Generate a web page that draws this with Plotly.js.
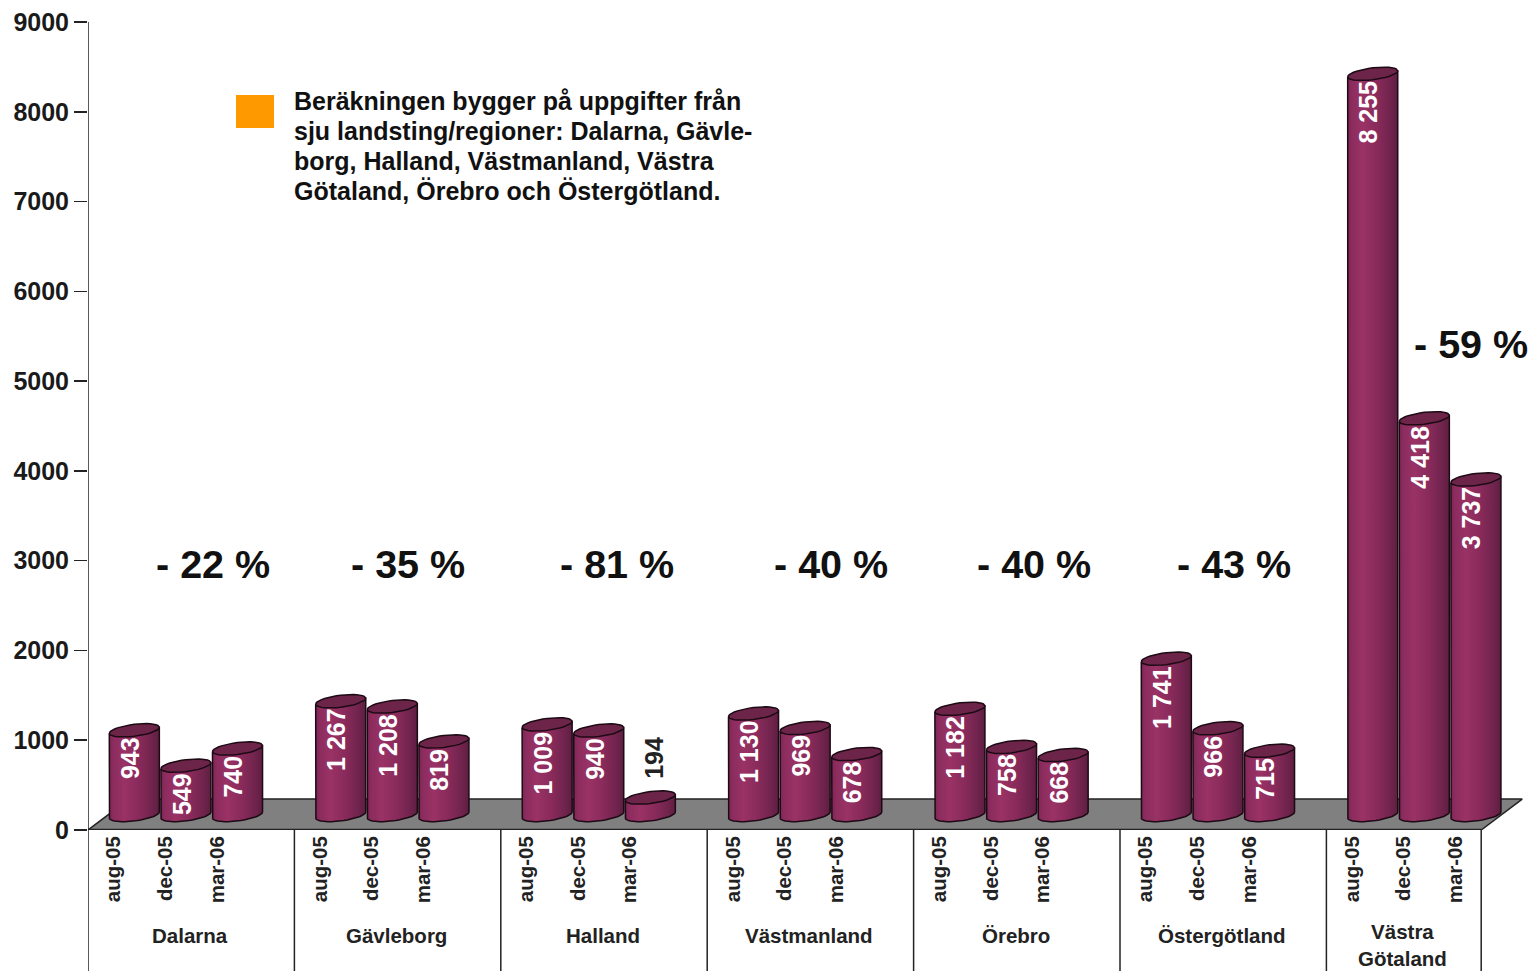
<!DOCTYPE html>
<html>
<head>
<meta charset="utf-8">
<script src="https://cdn.plot.ly/plotly-3.0.1.min.js"></script>
<style>html,body{margin:0;padding:0;background:#fff}#chart{width:1530px;height:971px}</style>
</head>
<body>
<div id="chart"></div>
<script>
// ---- data ----
var groups = ['Dalarna','Gävleborg','Halland','Västmanland','Örebro','Östergötland','Västra<br>Götaland'];
var periods = ['aug-05','dec-05','mar-06'];
var values = [
  943, 549, 740,
  1267, 1208, 819,
  1009, 940, 194,
  1130, 969, 678,
  1182, 758, 668,
  1741, 966, 715,
  8255, 4418, 3737
];
var changes = ['- 22 %','- 35 %','- 81 %','- 40 %','- 40 %','- 43 %','- 59 %'];
var changeX = [2.42, 6.2, 10.25, 14.4, 18.33, 22.2, 26.8];
var changeY = [2960, 2960, 2960, 2960, 2960, 2960, 5410];
var noteLines = [
  'Beräkningen bygger på uppgifter från',
  'sju landsting/regioner: Dalarna, Gävle-',
  'borg, Halland, Västmanland, Västra',
  'Götaland, Örebro och Östergötland.'
];
var yTicks = [0,1000,2000,3000,4000,5000,6000,7000,8000,9000];

// ---- geometry of the pseudo-3D look ----
var FONT = '"Liberation Sans", Arial, sans-serif';
var PLOT = {l: 88, t: 22, w: 1442, h: 808};
var slotPx = 51.6, unitPx = PLOT.h / 9000;
var xMax = PLOT.w / slotPx;
var depthX = 0.795, depthY = 345;         // floor depth, axis units
var barShiftX = depthX / 2, barBase = depthY / 2 - 5; // bars stand mid-floor
var rx = 0.485, ry = 6 / unitPx, tilt = 3 / unitPx; // ellipse shape
var lastSlot = 27;
var groupStarts = [0,4,8,12,16,20,24];
var groupEnds = [4,8,12,16,20,24,27];

var tickX = [], barX = [], tickText = [], valueLabels = [];
values.forEach(function (v, i) {
  var g = Math.floor(i / 3), k = i % 3;
  tickX.push(groupStarts[g] + k + 0.5);
  barX.push(groupStarts[g] + k + 0.5 + barShiftX);
  tickText.push(periods[k]);
  valueLabels.push(String(v).replace(/(\d)(\d{3})$/, '$1 $2'));
});

function ellipsePoint(cx, cy, t) {
  return [cx + rx * Math.cos(t), cy + ry * Math.sin(t) + tilt * Math.cos(t)];
}

var traces = [];
// floor
traces.push({
  type: 'scatter', mode: 'lines', hoverinfo: 'skip', showlegend: false, zorder: -1,
  x: [0, lastSlot, lastSlot + depthX, depthX, 0],
  y: [0, 0, depthY, depthY, 0],
  fill: 'toself', fillcolor: '#808080',
  line: {color: '#222', width: 1.5}
});
// actual value bars
traces.push({
  type: 'bar', x: barX, y: values, base: barBase, width: rx * 2 * 0.85,
  marker: {color: '#862b5c', line: {width: 0}}, hoverinfo: 'x+y', showlegend: false, zorder: 0
});
// cylinder skin
var bodyScale = [[0,'#7c2654'],[0.08,'#8c2c5e'],[0.3,'#9a3265'],[0.6,'#882a5b'],[0.85,'#70244d'],[1,'#5e1e40']];
values.forEach(function (v, i) {
  var cx = barX[i], top = barBase + v, xs = [], ys = [], n, t, p;
  // left edge down, curved bottom, right edge up, rear closing along the top
  p = ellipsePoint(cx, top, Math.PI); xs.push(p[0]); ys.push(p[1]);
  for (n = 0; n <= 24; n++) {
    t = Math.PI + n / 24 * Math.PI;
    p = ellipsePoint(cx, barBase, t); xs.push(p[0]); ys.push(p[1]);
  }
  p = ellipsePoint(cx, top, 0); xs.push(p[0]); ys.push(p[1]);
  xs.push(xs[0]); ys.push(ys[0]);
  traces.push({
    type: 'scatter', mode: 'lines', hoverinfo: 'skip', showlegend: false, zorder: 1,
    x: xs, y: ys, fill: 'toself',
    fillgradient: {type: 'horizontal', colorscale: bodyScale},
    line: {color: '#1c0a14', width: 1.5}
  });
  var ex = [], ey = [];
  for (n = 0; n <= 36; n++) {
    p = ellipsePoint(cx, top, n / 36 * 2 * Math.PI); ex.push(p[0]); ey.push(p[1]);
  }
  traces.push({
    type: 'scatter', mode: 'lines', hoverinfo: 'skip', showlegend: false, zorder: 1,
    x: ex, y: ey, fill: 'toself', fillcolor: '#6d2449',
    line: {color: '#1c0a14', width: 1.5}
  });
});

// ---- text ----
var annotations = [];
values.forEach(function (v, i) {
  var outside = v < 300;
  annotations.push({
    x: barX[i], y: barBase + v, xref: 'x', yref: 'y', showarrow: false,
    text: valueLabels[i], textangle: -90,
    xanchor: 'center', yanchor: outside ? 'bottom' : 'top',
    xshift: outside ? 3 : -4.5, yshift: outside ? 17 : -5,
    font: {family: FONT, size: 25, color: outside ? '#222' : '#fff', weight: 700}
  });
});
groups.forEach(function (g, i) {
  var twoLines = g.indexOf('<br>') >= 0;
  annotations.push({
    x: (groupStarts[i] + groupEnds[i]) / 2, y: -((twoLines ? 918 : 922) - 830) / PLOT.h, xref: 'x', yref: 'paper',
    showarrow: false, text: g, xanchor: 'center', yanchor: 'top', align: 'center', xshift: -1,
    font: {family: FONT, size: 20.5, color: '#222', weight: 700}
  });
  annotations.push({
    x: changeX[i], y: changeY[i], xref: 'x', yref: 'y', showarrow: false,
    text: changes[i], xanchor: 'center', yanchor: 'middle',
    font: {family: FONT, size: 39.5, color: '#111', weight: 700}
  });
});
noteLines.forEach(function (line, i) {
  annotations.push({
    x: (292 - PLOT.l) / PLOT.w, y: (830 - 101 - 30 * i) / PLOT.h, xref: 'paper', yref: 'paper',
    showarrow: false, text: line, xanchor: 'left', yanchor: 'middle',
    font: {family: FONT, size: 25, color: '#111', weight: 700}
  });
});

// ---- axis furniture ----
var shapes = [];
var below = -(971 - 830) / PLOT.h;
groupStarts.concat([lastSlot]).forEach(function (x) {
  shapes.push({type: 'line', xref: 'x', yref: 'paper', x0: x, x1: x, y0: x === 0 ? 1 : 0, y1: below,
    line: {color: '#222', width: 1.5}});
});
shapes.push({type: 'line', xref: 'x', yref: 'y', x0: 0, x1: lastSlot, y0: 0, y1: 0,
  line: {color: '#222', width: 2.5}});
shapes.push({type: 'rect', xref: 'paper', yref: 'paper',
  x0: (236 - PLOT.l) / PLOT.w, x1: (274 - PLOT.l) / PLOT.w,
  y0: (830 - 128) / PLOT.h, y1: (830 - 95) / PLOT.h,
  fillcolor: '#FF9900', line: {width: 0}});

var layout = {
  width: 1530, height: 971,
  margin: {l: PLOT.l, t: PLOT.t, r: 0, b: 971 - PLOT.t - PLOT.h, pad: 0, autoexpand: false},
  paper_bgcolor: '#fff', plot_bgcolor: '#fff',
  showlegend: false, barmode: 'overlay',
  xaxis: {
    range: [0, xMax], showgrid: false, zeroline: false, showline: false,
    tickmode: 'array', tickvals: tickX, ticktext: tickText, tickangle: -90,
    ticks: '', ticklabelstandoff: 1, automargin: false,
    tickfont: {family: FONT, size: 20.5, color: '#222', weight: 700}
  },
  yaxis: {
    range: [0, 9000], showgrid: false, zeroline: false, showline: false,
    ticks: 'outside', ticklen: 13, tickwidth: 1.5, tickcolor: '#222',
    tickmode: 'array', tickvals: yTicks, ticktext: yTicks.map(String),
    ticklabelstandoff: 0, automargin: false,
    tickfont: {family: FONT, size: 25, color: '#1a1a1a', weight: 700}
  },
  annotations: annotations, shapes: shapes
};

Plotly.newPlot('chart', traces, layout, {displayModeBar: false, staticPlot: true});
</script>
</body>
</html>
